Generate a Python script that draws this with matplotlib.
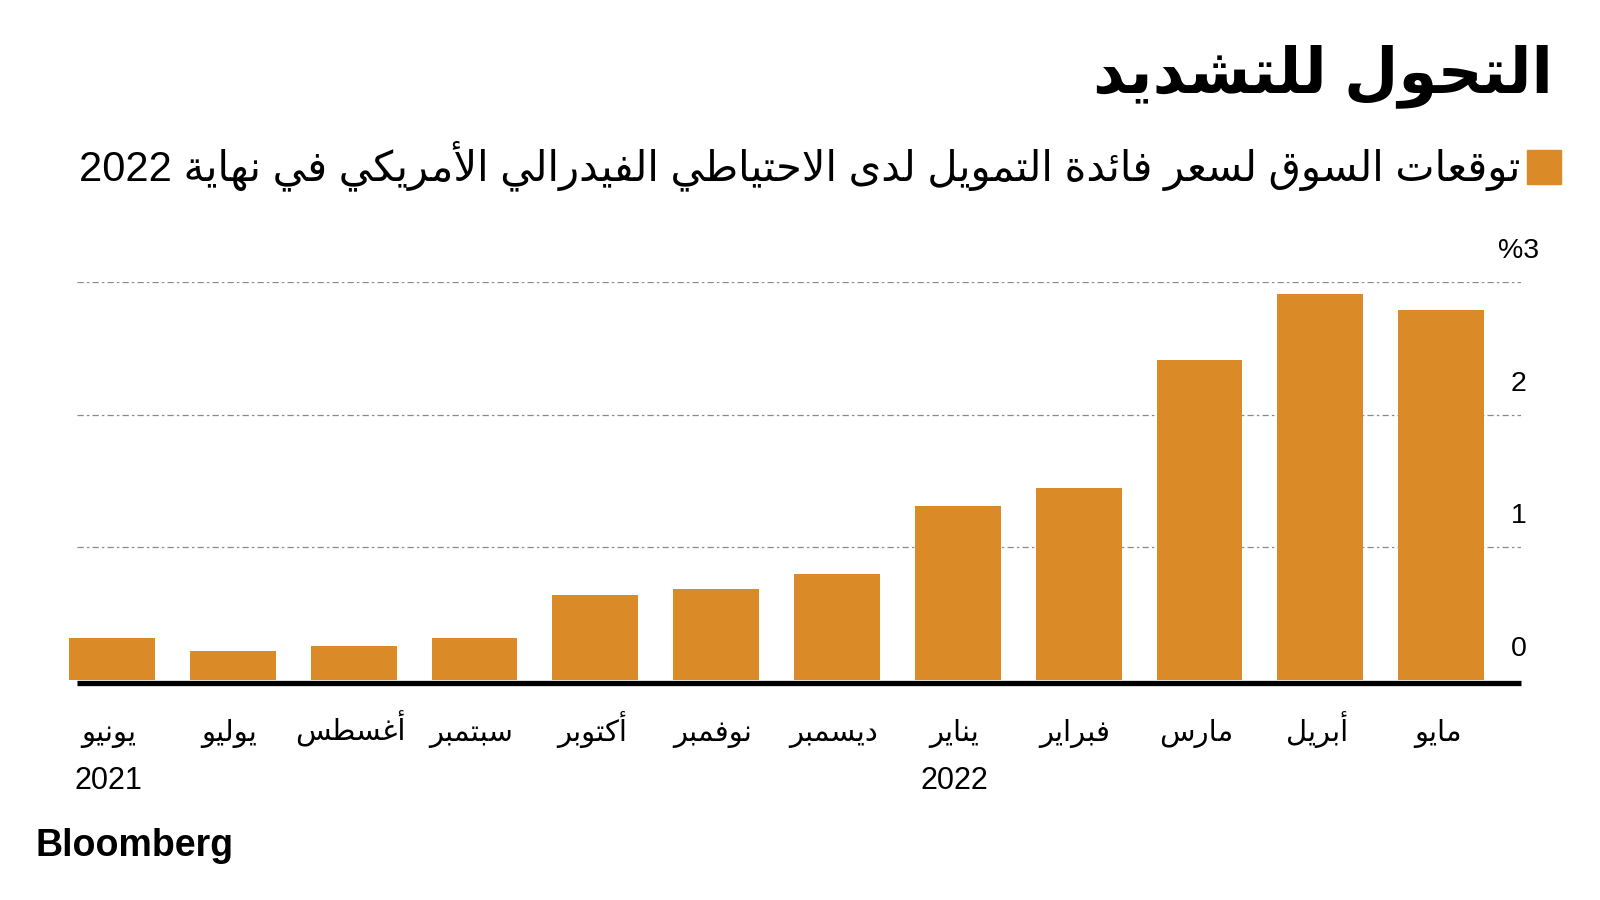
import re
import matplotlib
matplotlib.use("Agg")
import matplotlib.pyplot as plt
import matplotlib.transforms as mtransforms
from matplotlib.patches import Rectangle

# ---------------- data ----------------
title = "التحول للتشديد"
subtitle = "توقعات السوق لسعر فائدة التمويل لدى الاحتياطي الفيدرالي الأمريكي في نهاية 2022"
months = ["يونيو", "يوليو", "أغسطس", "سبتمبر", "أكتوبر", "نوفمبر",
          "ديسمبر", "يناير", "فبراير", "مارس", "أبريل", "مايو"]
years = ["2021", "", "", "", "", "", "", "2022", "", "", "", ""]
values = [0.32, 0.22, 0.26, 0.32, 0.64, 0.69, 0.80, 1.31, 1.45, 2.41, 2.91, 2.79]
yticks = [0, 1, 2, 3]
ytick_labels = ["0", "1", "2", "%3"]
source = "Bloomberg"

BAR = "#DA8A26"

# ---------------- minimal Arabic shaping (no external libs) ----------------
FORMS = {
    'ء': (0xFE80,), 'آ': (0xFE81, 0xFE82), 'أ': (0xFE83, 0xFE84), 'ؤ': (0xFE85, 0xFE86),
    'إ': (0xFE87, 0xFE88), 'ئ': (0xFE89, 0xFE8A, 0xFE8B, 0xFE8C), 'ا': (0xFE8D, 0xFE8E),
    'ب': (0xFE8F, 0xFE90, 0xFE91, 0xFE92), 'ة': (0xFE93, 0xFE94),
    'ت': (0xFE95, 0xFE96, 0xFE97, 0xFE98), 'ث': (0xFE99, 0xFE9A, 0xFE9B, 0xFE9C),
    'ج': (0xFE9D, 0xFE9E, 0xFE9F, 0xFEA0), 'ح': (0xFEA1, 0xFEA2, 0xFEA3, 0xFEA4),
    'خ': (0xFEA5, 0xFEA6, 0xFEA7, 0xFEA8), 'د': (0xFEA9, 0xFEAA), 'ذ': (0xFEAB, 0xFEAC),
    'ر': (0xFEAD, 0xFEAE), 'ز': (0xFEAF, 0xFEB0),
    'س': (0xFEB1, 0xFEB2, 0xFEB3, 0xFEB4), 'ش': (0xFEB5, 0xFEB6, 0xFEB7, 0xFEB8),
    'ص': (0xFEB9, 0xFEBA, 0xFEBB, 0xFEBC), 'ض': (0xFEBD, 0xFEBE, 0xFEBF, 0xFEC0),
    'ط': (0xFEC1, 0xFEC2, 0xFEC3, 0xFEC4), 'ظ': (0xFEC5, 0xFEC6, 0xFEC7, 0xFEC8),
    'ع': (0xFEC9, 0xFECA, 0xFECB, 0xFECC), 'غ': (0xFECD, 0xFECE, 0xFECF, 0xFED0),
    'ف': (0xFED1, 0xFED2, 0xFED3, 0xFED4), 'ق': (0xFED5, 0xFED6, 0xFED7, 0xFED8),
    'ك': (0xFED9, 0xFEDA, 0xFEDB, 0xFEDC), 'ل': (0xFEDD, 0xFEDE, 0xFEDF, 0xFEE0),
    'م': (0xFEE1, 0xFEE2, 0xFEE3, 0xFEE4), 'ن': (0xFEE5, 0xFEE6, 0xFEE7, 0xFEE8),
    'ه': (0xFEE9, 0xFEEA, 0xFEEB, 0xFEEC), 'و': (0xFEED, 0xFEEE),
    'ى': (0xFEEF, 0xFEF0), 'ي': (0xFEF1, 0xFEF2, 0xFEF3, 0xFEF4),
}
LAMALEF = {'آ': (0xFEF5, 0xFEF6), 'أ': (0xFEF7, 0xFEF8),
           'إ': (0xFEF9, 0xFEFA), 'ا': (0xFEFB, 0xFEFC)}


def shape(text):
    chars = list(text)
    units = []
    i = 0
    while i < len(chars):
        c = chars[i]
        if c == 'ل' and i + 1 < len(chars) and chars[i + 1] in LAMALEF:
            units.append(('LA', chars[i + 1]))
            i += 2
        else:
            units.append(('C', c))
            i += 1

    def is_ar(u):
        return u[0] == 'LA' or u[1] in FORMS

    def joins_next(u):
        return u[0] == 'C' and u[1] in FORMS and len(FORMS[u[1]]) == 4

    out = []
    for k, u in enumerate(units):
        prev = units[k - 1] if k > 0 else None
        nxt = units[k + 1] if k + 1 < len(units) else None
        jp = prev is not None and joins_next(prev) and is_ar(u)
        if u[0] == 'LA':
            f = LAMALEF[u[1]]
            out.append(chr(f[1] if jp else f[0]))
            continue
        c = u[1]
        if c not in FORMS:
            out.append(c)
            continue
        f = FORMS[c]
        jn = len(f) == 4 and nxt is not None and is_ar(nxt)
        if len(f) == 1:
            out.append(chr(f[0]))
        elif jp and jn:
            out.append(chr(f[3]))
        elif jn:
            out.append(chr(f[2]))
        elif jp:
            out.append(chr(f[1]))
        else:
            out.append(chr(f[0]))
    s = "".join(out)[::-1]
    s = re.sub(r"[0-9A-Za-z.,%]+", lambda m: m.group(0)[::-1], s)
    return s


FAM = ["Liberation Sans", "DejaVu Sans"]

# ---------------- figure ----------------
fig = plt.figure(figsize=(16, 9), dpi=100)
fig.patch.set_facecolor("white")

ax = fig.add_axes([0.0398, 0.2444, 0.9108, 0.4422])
x = list(range(len(values)))
ax.bar(x, values, width=0.71, color=BAR, zorder=2)
ax.set_xlim(-0.40, 11.66)
ax.set_ylim(0, 3)

for s in ax.spines.values():
    s.set_visible(False)

# grid lines
for v in yticks[1:]:
    ax.hlines(v, -0.29, 11.66, color="#8a8a8a", lw=0.9,
              linestyles=[(0, (5, 2.5, 2, 2.5))], zorder=1)
# baseline
ax.hlines(-0.024, -0.29, 11.66, color="black", lw=3.8, zorder=3, clip_on=False)

# y labels (right, above gridlines)
trans = mtransforms.blended_transform_factory(ax.transAxes, ax.transData)
for v, lab in zip(yticks, ytick_labels):
    xr = 1.0125 if lab.startswith("%") else 1.004
    ax.text(xr, v + 0.235, lab, transform=trans, ha="right", va="center",
            fontsize=20.5, family=FAM, color="black")
ax.set_yticks([])
ax.set_xticks([])

# x labels: month (baseline-aligned) and year below
xtrans = mtransforms.blended_transform_factory(ax.transData, ax.transAxes)
for xi, m, y in zip(x, months, years):
    ax.text(xi - 0.03, -0.152, shape(m), transform=xtrans, ha="center",
            va="baseline", fontsize=21, family=FAM, clip_on=False)
    if y:
        ax.text(xi - 0.03, -0.2739, y, transform=xtrans, ha="center",
                va="baseline", fontsize=22, family=FAM, clip_on=False)

# title
fig.text(0.9705, 0.915, shape(title), ha="right", va="center", fontsize=45,
         fontweight="bold", family=FAM)

# legend square + subtitle
fig.patches.append(Rectangle((1527 / 1600, 1 - 184 / 900), 34 / 1600, 34 / 900,
                             transform=fig.transFigure, color=BAR))
fig.text(1520 / 1600, 1 - 166 / 900, shape(subtitle), ha="right", va="center",
         fontsize=30, family=FAM)

# source
fig.text(36 / 1600, 1 - 846 / 900, source, ha="left", va="center", fontsize=27,
         fontweight="bold", family=["Liberation Sans"])

fig.savefig("out.png", dpi=100)
